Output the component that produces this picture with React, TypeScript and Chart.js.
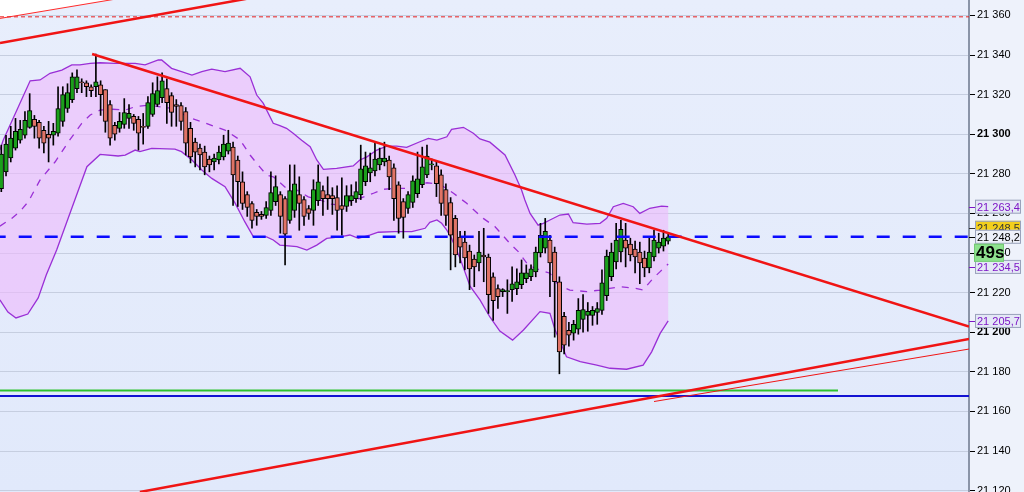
import { useEffect, useRef } from 'react';
import Chart from 'chart.js/auto';

// candles, one per bar (index 0 = leftmost, partly cut off)
const opens = [
	21272.5, 21281, 21288, 21293, 21297, 21299.5, 21303.5, 21307.5, 21306, 21302,
	21300, 21299.5, 21300.5, 21306.5, 21313, 21317.5, 21323, 21326.5, 21326, 21324,
	21324, 21325, 21322.5, 21315, 21304.5, 21303, 21305, 21308, 21309, 21307.5,
	21304, 21304, 21310, 21315, 21318.5, 21323, 21319.5, 21315, 21314.5, 21311.5,
	21303, 21296, 21293, 21291, 21287.5, 21286, 21287, 21288.5, 21291.5, 21293.5,
	21287, 21276, 21269.5, 21265, 21260.5, 21259.5, 21259, 21261.5, 21266, 21269.5,
	21267.5, 21256.5, 21261.5, 21269.5, 21267, 21262.5, 21261.5, 21266.5, 21271.5, 21269.5,
	21269, 21268, 21264, 21263.5, 21266.5, 21267.5, 21269.5, 21276, 21280.5, 21281.5,
	21284.5, 21286, 21287, 21283, 21274.5, 21266, 21262.5, 21265.5, 21270, 21274.5,
	21279.5, 21284.5, 21284, 21279.5, 21272, 21265.5, 21257.5, 21248, 21245.5, 21241,
	21237, 21235, 21239, 21238, 21228, 21222, 21220.5, 21220.5, 21221.5, 21222,
	21224, 21227, 21228, 21230.5, 21240, 21242.5, 21246.5, 21240.5, 21225.5, 21208,
	21201, 21199.5, 21201.5, 21206.5, 21208.5, 21208.5, 21210, 21211, 21218.5, 21228,
	21235.5, 21240.5, 21246.5, 21244.5, 21242, 21240.5, 21237.5, 21232.5, 21238, 21242.5,
	21243.5, 21246,
];
const highs = [
	21294.5, 21299.5, 21304, 21308, 21307, 21311.5, 21320.5, 21309.5, 21307, 21304,
	21306.5, 21305.5, 21324, 21324, 21325.5, 21331, 21332.5, 21328, 21327, 21325,
	21340.5, 21327, 21322.5, 21317, 21306, 21311, 21318, 21315, 21310, 21309,
	21310.5, 21319, 21326, 21329, 21331, 21328, 21321, 21317.5, 21316, 21313.5,
	21306, 21298, 21295, 21294, 21289, 21290, 21294, 21299.5, 21302, 21296,
	21289, 21281, 21271, 21266, 21262, 21261, 21266, 21281, 21279, 21271,
	21268.5, 21284.5, 21284.5, 21278.5, 21268.5, 21264, 21277, 21284.5, 21274, 21278.5,
	21273, 21274, 21278, 21274, 21274.5, 21276, 21294.5, 21291, 21290.5, 21295.5,
	21293, 21296, 21289, 21285, 21276, 21267.5, 21271, 21279, 21291, 21293.5,
	21294.5, 21287.5, 21286, 21282, 21275, 21268, 21259, 21251, 21251, 21244,
	21239, 21251, 21252.5, 21239.5, 21230, 21224, 21222, 21226.5, 21233, 21232,
	21236.5, 21234, 21234, 21243, 21255, 21257.5, 21249, 21243, 21228, 21210,
	21205, 21206, 21217, 21219, 21215, 21213, 21215, 21231.5, 21241.5, 21245,
	21255, 21256.5, 21255, 21247.5, 21246, 21245.5, 21241, 21248, 21251.5, 21250,
	21251.5, 21249.5,
];
const lows = [
	21271, 21279, 21286, 21292, 21295.5, 21298, 21303, 21298, 21293, 21290.5,
	21286, 21294.5, 21299, 21304, 21311, 21316, 21321, 21321, 21319, 21319,
	21319, 21309.5, 21301, 21294.5, 21297, 21301, 21303, 21303, 21302, 21292,
	21295, 21303, 21309, 21314, 21316, 21305.5, 21304, 21304, 21302, 21289.5,
	21285.5, 21283.5, 21282, 21279.5, 21281, 21282, 21285, 21287, 21290, 21264,
	21263.5, 21262, 21258.5, 21252.5, 21254, 21257, 21257.5, 21259, 21264, 21250,
	21234, 21255, 21258, 21251.5, 21254, 21257, 21254, 21264, 21259, 21262,
	21259.5, 21251.5, 21249, 21261, 21264, 21265.5, 21267, 21274, 21276, 21279,
	21282, 21284, 21272, 21256.5, 21250, 21247.5, 21260, 21263, 21268, 21273,
	21278, 21282, 21268.5, 21259, 21254, 21231.5, 21233, 21235, 21231.5, 21221.5,
	21223, 21231, 21225.5, 21209.5, 21206, 21212, 21218, 21209.5, 21215.5, 21219,
	21222, 21225, 21226, 21228, 21238, 21240, 21218, 21197.5, 21179, 21189,
	21193, 21196, 21199, 21200, 21200.5, 21203.5, 21204, 21209, 21216, 21226,
	21232, 21235.5, 21233, 21236, 21230, 21224.5, 21228, 21230, 21236, 21240,
	21241, 21244.5,
];
const closes = [
	21290, 21295, 21298, 21301.5, 21302.5, 21307, 21312, 21304, 21298, 21295.5,
	21298, 21301.5, 21313, 21320, 21321, 21329, 21329, 21326, 21324, 21322,
	21326.5, 21320, 21306.5, 21298, 21300, 21306.5, 21311, 21310.5, 21305.5, 21300.5,
	21303.5, 21316, 21320.5, 21322, 21327, 21316, 21311, 21314, 21306.5, 21295.5,
	21288.5, 21291, 21289.5, 21283.5, 21284.5, 21288, 21291, 21295, 21295.5, 21279.5,
	21276, 21265, 21263, 21256.5, 21258.5, 21258.5, 21263, 21270.5, 21273.5, 21258.5,
	21249.5, 21271.5, 21275, 21265, 21258.5, 21260, 21272, 21276, 21267.5, 21267.5,
	21267.5, 21261.5, 21262, 21269, 21269, 21271, 21282.5, 21284, 21283, 21287.5,
	21288, 21288, 21278.5, 21267.5, 21257.5, 21258, 21269.5, 21276.5, 21277.5, 21283.5,
	21289, 21285, 21275, 21265, 21259, 21249, 21239, 21243, 21237.5, 21232,
	21233, 21240.5, 21238, 21219, 21216, 21218, 21221.5, 21221, 21224.5, 21225.5,
	21230, 21230, 21232, 21240.5, 21249, 21251, 21235, 21225.5, 21190, 21193.5,
	21198.5, 21204, 21211, 21211.5, 21210.5, 21211, 21212, 21225, 21238.5, 21240.5,
	21246.5, 21252, 21242.5, 21239, 21238, 21235, 21232.5, 21240.5, 21246.5, 21245.5,
	21247.5, 21248.2,
];

// Bollinger bands, [bar index, price]
const bandUpper: [number, number][] = [
	[-0.3, 21292], [0.4, 21297], [6.1, 21327], [8.2, 21327.4], [10.3, 21330.8], [12.8, 21332.4],
	[14.9, 21335], [16.6, 21335], [18.8, 21335.8], [20.9, 21336.1], [24, 21335.8], [28.3, 21335.8],
	[30.4, 21335], [33.2, 21337.5], [33.9, 21337.5], [36, 21333.3], [38.1, 21331.6], [40.3, 21329.9],
	[42.4, 21331.6], [44.5, 21332.9], [47.3, 21331.6], [50.5, 21333.3], [52.6, 21329], [54, 21319.8],
	[55.4, 21315.6], [57.5, 21305.5], [58.9, 21304.3], [60.3, 21303], [61.7, 21300.5], [63.5, 21297],
	[65.3, 21293.7], [66.7, 21287], [68.1, 21282.3], [70.9, 21282.8], [74.4, 21284], [75.8, 21287],
	[77.3, 21288.6], [79.4, 21292], [81.5, 21294], [83.6, 21294], [85.7, 21293.4], [88.5, 21296.2],
	[90.3, 21297.9], [92.1, 21297], [94.2, 21298.7], [95.2, 21302.5], [97.7, 21303.5], [99.8, 21300.5],
	[101.2, 21297.6], [103.3, 21296], [106.5, 21289.5], [108.6, 21279.4], [110, 21271.8], [110.7, 21266.8],
	[111.8, 21260], [113.5, 21254.1], [114.6, 21255], [116, 21256.7], [118.1, 21259.2], [119.9, 21259.7],
	[120.9, 21255.3], [123.8, 21254.6], [126.6, 21255], [128, 21257.5], [129.4, 21263.4], [131.5, 21265.1],
	[133.6, 21263.4], [135, 21260], [137.1, 21262.6], [139.6, 21263.7], [141, 21263.4],
];
const bandMiddle: [number, number][] = [
	[-0.3, 21253.6], [2.2, 21257.5], [3.9, 21260.9], [5.7, 21265.9], [8.2, 21276.9], [11.4, 21286.1],
	[14.2, 21296.2], [17, 21305.5], [18.8, 21309.7], [20.9, 21312.2], [23, 21312.7], [26.2, 21312.2],
	[28.3, 21313.9], [31.1, 21314.7], [35.7, 21313.2], [40.3, 21308], [42.4, 21306.3], [45.2, 21303.8],
	[47.3, 21302.1], [50.5, 21297.1], [52.6, 21289.5], [54, 21285.3], [56.1, 21279.4], [57.5, 21278.5],
	[60.3, 21272.7], [62.5, 21271.8], [64.9, 21268.4], [67.4, 21266.8], [69.5, 21264.8], [71.6, 21264.2],
	[74.4, 21266.8], [75.8, 21267.6], [78.7, 21270.2], [80.8, 21272.2], [83.6, 21272.7], [85.7, 21272.7],
	[88.5, 21274.8], [90, 21275.5], [92.7, 21274.8], [95.6, 21270.2], [98.4, 21265.1], [100.5, 21260.5],
	[101.9, 21257.5], [104.4, 21253.3], [107.5, 21244.9], [109.3, 21240.7], [111.4, 21233.9], [113.9, 21231.4],
	[116, 21229.8], [117.8, 21223.8], [120.2, 21221.3], [123.8, 21220.5], [126.6, 21221.3], [130.8, 21223],
	[134, 21222.2], [135.7, 21221.3], [137.8, 21227.2], [139.3, 21230.6], [141, 21234.5],
];
const bandLower: [number, number][] = [
	[-0.3, 21216.3], [1.4, 21210.2], [3.1, 21207.2], [5.6, 21209.2], [7.8, 21217.3], [9.5, 21228.9],
	[11.7, 21241.5], [14.5, 21260], [18.1, 21283.6], [20.9, 21289.8], [24.7, 21289], [26.2, 21289.5],
	[28.3, 21292], [29.3, 21291.2], [31.8, 21292.9], [36.7, 21292.5], [38.1, 21291.2], [40.3, 21287],
	[42.4, 21281.9], [44.5, 21277.7], [47.3, 21273.5], [49.4, 21265.3], [51.5, 21255.7], [53.3, 21248.2],
	[56.1, 21248.2], [57.5, 21246.6], [58.9, 21244], [62.5, 21243.2], [64.6, 21241.5], [66.7, 21244],
	[68.8, 21247.4], [71.6, 21248.2], [73.7, 21249.1], [75.5, 21247.4], [77.9, 21249.1], [79.7, 21250.5],
	[83.2, 21250.8], [86.8, 21250.8], [89.6, 21252.5], [90.6, 21255.5], [92.1, 21256.7], [93.1, 21255],
	[94.2, 21251.6], [95.2, 21247.4], [97, 21237.3], [98, 21230.6], [99.1, 21223.3], [101.2, 21216.3],
	[103.3, 21207.7], [105.4, 21200.6], [108.1, 21196], [110.4, 21201.1], [113.9, 21210.4], [116, 21209.5],
	[117.1, 21201.1], [119.5, 21187.6], [122.4, 21185.1], [125.9, 21183.4], [128.7, 21181.8], [132.2, 21181.3],
	[135.7, 21183.4], [137.5, 21190.1], [139.3, 21199.4], [141, 21205.7],
];

// drawn objects: trend lines [index, price] pairs, horizontal levels
const trendDown: [number, number][] = [[19.2, 21340.5], [204.6, 21202.9]];
const trendUp: [number, number][] = [[29.3, 21119.3], [204.6, 21196.6]];
const trendUpThin: [number, number][] = [[138, 21165], [204.6, 21191.5]];
const channelTop: [number, number][] = [[-0.275, 21346.1], [60, 21371.9]];
const channelTopThin: [number, number][] = [[-0.275, 21358.5], [30, 21370.6]];
const levelDashedRed = 21359.3;
const levelGreen = 21170.6;
const levelGreenEnd = 176.9;
const levelBlue = 21167.8;
const lastPrice = 21248.2;
const askPrice = 21248.5;
const countdown = '49s';

const yTicks = [21120, 21140, 21160, 21180, 21200, 21220, 21240, 21260, 21280, 21300, 21320, 21340, 21360];
const xMin = -0.275;
const xMax = 204.6;
const yMin = 21119.3;
const yMax = 21367.8;

const fmt = (v: number, d: number) => {
	const [i, f] = v.toFixed(d).split('.');
	return i.slice(0, -3) + ' ' + i.slice(-3) + (f ? ',' + f : '');
};
const pts = (a: [number, number][]) => a.map(([x, y]) => ({ x, y }));
const level = (v: number, to = xMax) => [{ x: xMin, y: v }, { x: to, y: v }];

const FONT = '"Liberation Sans", Arial, sans-serif';

const bgPlugin = {
	id: 'bg',
	beforeDraw(chart: any) {
		const { ctx, chartArea: a, width, height } = chart;
		ctx.save();
		ctx.fillStyle = '#eef2fb';
		ctx.fillRect(0, 0, width, height);
		const g = ctx.createLinearGradient(0, a.top, 0, a.bottom);
		g.addColorStop(0, '#e8eefc');
		g.addColorStop(1, '#e1e9fb');
		ctx.fillStyle = g;
		ctx.fillRect(a.left, a.top, a.right - a.left, a.bottom - a.top);
		ctx.restore();
	},
};

const tagPlugin = {
	id: 'axisTags',
	afterDraw(chart: any) {
		const { ctx, chartArea, scales } = chart;
		const y = scales.y;
		const x0 = chartArea.right;
		const tag = (yc: number, text: string, fill: string, color: string) => {
			ctx.fillStyle = fill;
			ctx.fillRect(x0 + 6, yc - 7, 46, 14);
			ctx.strokeStyle = '#9aa2bb';
			ctx.lineWidth = 1;
			ctx.strokeRect(x0 + 6.5, yc - 6.5, 45, 13);
			ctx.strokeStyle = color;
			ctx.beginPath();
			ctx.moveTo(x0, Math.round(yc) + 0.5);
			ctx.lineTo(x0 + 6, Math.round(yc) + 0.5);
			ctx.stroke();
			ctx.fillStyle = color;
			ctx.font = '11px ' + FONT;
			ctx.textAlign = 'left';
			ctx.textBaseline = 'middle';
			ctx.fillText(text, x0 + 8, yc + 1);
		};
		ctx.save();
		const up = bandUpper[bandUpper.length - 1][1];
		const mid = bandMiddle[bandMiddle.length - 1][1];
		const low = bandLower[bandLower.length - 1][1];
		const pLast = y.getPixelForValue(lastPrice);
		tag(y.getPixelForValue(up), fmt(up, 1), '#e4e8f6', '#7d16c6');
		tag(pLast - 9, fmt(askPrice, 1), '#f3cf1c', '#333333');
		tag(pLast, fmt(lastPrice, 1), '#eef1fa', '#000000');
		tag(y.getPixelForValue(mid) + 3, fmt(mid, 1), '#e4e8f6', '#7d16c6');
		tag(y.getPixelForValue(low), fmt(low, 1), '#e4e8f6', '#7d16c6');
		// countdown badge
		ctx.fillStyle = '#8ee28e';
		ctx.fillRect(x0 + 5, pLast + 7, 30, 18);
		ctx.strokeStyle = '#74c874';
		ctx.strokeRect(x0 + 5.5, pLast + 7.5, 29, 17);
		ctx.fillStyle = '#000';
		ctx.font = 'bold 17px ' + FONT;
		ctx.textAlign = 'left';
		ctx.textBaseline = 'middle';
		ctx.fillText(countdown, x0 + 7, pLast + 17);
		ctx.restore();
	},
};

const App = () => {
	const chartRef = useRef<HTMLCanvasElement>(null);
	const chartInstanceRef = useRef<Chart | null>(null);

	useEffect(() => {
		if (!chartRef.current) return;
		if (chartInstanceRef.current) chartInstanceRef.current.destroy();

		const bodies = opens.map((o, i) => ({ x: i, y: [o, closes[i]] }));
		const wicks = lows.map((l, i) => ({ x: i, y: [l, highs[i]] }));
		const bodyColors = opens.map((o, i) => (closes[i] >= o ? '#1b9f1b' : '#e07366'));
		const bandShape = [...pts(bandUpper), ...pts(bandLower).reverse()];

		const line = (data: any[], color: string, width: number, order: number, extra: any = {}) => ({
			type: 'line' as const,
			data,
			borderColor: color,
			borderWidth: width,
			pointRadius: 0,
			fill: false,
			order,
			...extra,
		});

		chartInstanceRef.current = new Chart(chartRef.current, {
			type: 'bar',
			data: {
				datasets: [
					line(pts(channelTopThin), '#ff2a2a', 1, 30, { fill: 'end', backgroundColor: '#ffffff' }) as any,
					line(bandShape, 'transparent', 0, 25, { fill: 'shape', backgroundColor: 'rgba(238, 186, 252, 0.62)' }),
					line(pts(bandUpper), '#9a2fd6', 1.3, 20),
					line(pts(bandLower), '#9a2fd6', 1.3, 20),
					line(pts(bandMiddle), '#9a2fd6', 1.3, 20, { borderDash: [7, 7] }),
					{
						type: 'bar',
						data: wicks as any,
						backgroundColor: '#000000',
						barThickness: 1,
						grouped: false,
						order: 12,
					},
					{
						type: 'bar',
						data: bodies as any,
						backgroundColor: bodyColors,
						borderColor: '#000000',
						borderWidth: 1,
						borderSkipped: false,
						barThickness: 4.5,
						grouped: false,
						order: 10,
					},
					line(level(levelDashedRed), '#e82020', 1, 5, { borderDash: [4, 3] }),
					line(level(levelGreen, levelGreenEnd), '#2fc12f', 2, 5),
					line(level(levelBlue), '#1212d2', 2, 5),
					line(level(lastPrice), '#0a0aff', 2.5, 4, { borderDash: [13, 13], borderDashOffset: 7.3 }),
					line(pts(channelTop), '#f01414', 2.5, 3),
					line(pts(trendDown), '#f01414', 2.5, 3),
					line(pts(trendUp), '#f01414', 2.5, 3),
					line(pts(trendUpThin), '#f01414', 1, 3),
				] as any,
			},
			options: {
				animation: false,
				responsive: false,
				events: [],
				layout: { padding: 0 },
				plugins: {
					legend: { display: false },
					tooltip: { enabled: false },
				},
				scales: {
					x: {
						type: 'linear',
						display: false,
						min: xMin,
						max: xMax,
						offset: false,
						grid: { display: false },
					},
					y: {
						position: 'right',
						min: yMin,
						max: yMax,
						afterBuildTicks: (s: any) => {
							s.ticks = yTicks.map((v) => ({ value: v }));
						},
						afterFit: (s: any) => {
							s.width = 55;
							s.paddingTop = 0;
							s.paddingBottom = 0;
						},
						grid: { color: '#c6cee0', lineWidth: 1, tickColor: '#000000', tickLength: 6 },
						border: { display: true, color: '#8a94a8', width: 2 },
						ticks: {
							padding: 2,
							color: '#000000',
							autoSkip: false,
							font: (c: any) => ({
								family: FONT,
								size: 11,
								weight: c.tick && c.tick.value % 100 === 0 ? 'bold' : 'normal',
							}),
							callback: (v: any) => fmt(Number(v), 0),
						},
					},
				},
			},
			plugins: [bgPlugin, tagPlugin],
		});

		return () => {
			if (chartInstanceRef.current) {
				chartInstanceRef.current.destroy();
				chartInstanceRef.current = null;
			}
		};
	}, []);

	return (
		<div style={{ position: 'absolute', left: 0, top: 0, width: 1024, height: 492 }}>
			<canvas ref={chartRef} width={1024} height={492} style={{ display: 'block' }} />
		</div>
	);
};

export default App;
